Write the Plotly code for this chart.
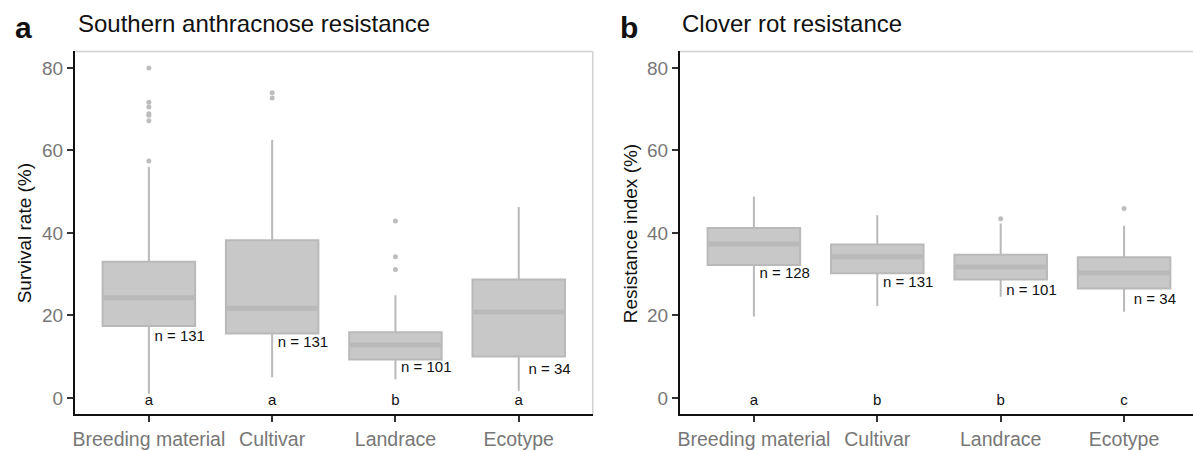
import plotly.graph_objects as go

categories = ["Breeding material", "Cultivar", "Landrace", "Ecotype"]
xpos = [0, 1, 2, 3]

# Panel a: Southern anthracnose resistance (survival rate, %)
a_q1 = [17.4, 15.6, 9.3, 10.0]
a_med = [24.3, 21.7, 12.8, 20.8]
a_q3 = [33.0, 38.2, 15.9, 28.7]
a_low = [1.0, 5.0, 4.5, 1.7]
a_high = [56.0, 62.6, 24.9, 46.3]
a_out_x = [0, 0, 0, 0, 0, 0, 0, 1, 1, 2, 2, 2]
a_out_y = [80.0, 71.7, 70.5, 68.9, 68.5, 67.2, 57.4, 74.0, 72.7, 42.9, 34.2, 31.1]
a_n = ["n = 131", "n = 131", "n = 101", "n = 34"]
a_n_y = [14.8, 13.2, 7.2, 6.8]
a_letters = ["a", "a", "b", "a"]

# Panel b: Clover rot resistance (resistance index, %)
b_q1 = [32.2, 30.2, 28.7, 26.5]
b_med = [37.3, 34.2, 31.7, 30.3]
b_q3 = [41.2, 37.2, 34.7, 34.1]
b_low = [19.7, 22.3, 24.5, 20.9]
b_high = [48.8, 44.3, 42.3, 41.7]
b_out_x = [2, 3]
b_out_y = [43.4, 45.9]
b_n = ["n = 128", "n = 131", "n = 101", "n = 34"]
b_n_y = [29.9, 27.9, 25.8, 23.7]
b_letters = ["a", "b", "b", "c"]

W, H = 1193, 450
FILL = "#c8c8c8"
LINE = "#b9b9b9"
FONT = "Liberation Sans, Arial, Helvetica, sans-serif"
BOXW = 0.75

fig = go.Figure()

panels = [
    ("x", "y", a_q1, a_med, a_q3, a_low, a_high, a_out_x, a_out_y, a_n, a_n_y, a_letters),
    ("x2", "y2", b_q1, b_med, b_q3, b_low, b_high, b_out_x, b_out_y, b_n, b_n_y, b_letters),
]

for xa, ya, q1, med, q3, low, high, ox, oy, nlab, ny, lets in panels:
    fig.add_trace(go.Box(
        x=xpos, q1=q1, median=med, q3=q3, lowerfence=low, upperfence=high,
        width=BOXW, whiskerwidth=0, boxpoints=False,
        fillcolor=FILL, line=dict(color=LINE, width=2),
        xaxis=xa, yaxis=ya, showlegend=False, hoverinfo="skip",
    ))
    # thicker median bars
    for xi, m in zip(xpos, med):
        fig.add_trace(go.Scatter(
            x=[xi - BOXW / 2 + 0.01, xi + BOXW / 2 - 0.01], y=[m, m], mode="lines",
            line=dict(color=LINE, width=5), xaxis=xa, yaxis=ya,
            showlegend=False, hoverinfo="skip",
        ))
    fig.add_trace(go.Scatter(
        x=ox, y=oy, mode="markers",
        marker=dict(color="#bdbdbd", size=5),
        xaxis=xa, yaxis=ya, showlegend=False, hoverinfo="skip",
    ))
    fig.add_trace(go.Scatter(
        x=[xi + 0.25 for xi in xpos], y=ny, mode="text", text=nlab,
        textfont=dict(family=FONT, size=15, color="#111111"),
        textposition="middle center",
        xaxis=xa, yaxis=ya, showlegend=False, hoverinfo="skip",
    ))
    fig.add_trace(go.Scatter(
        x=xpos, y=[-0.9] * 4, mode="text", text=lets,
        textfont=dict(family=FONT, size=15, color="#111111"),
        textposition="middle center",
        xaxis=xa, yaxis=ya, showlegend=False, hoverinfo="skip",
    ))

ydom = [1 - 419 / H, 1 - 52 / H]
common_x = dict(
    tickmode="array", tickvals=xpos, ticktext=categories,
    showline=True, linecolor="#111111", linewidth=2,
    ticks="outside", ticklen=6, tickwidth=1.5, tickcolor="#333333",
    tickfont=dict(family=FONT, size=19.5, color="#777777"),
    showgrid=False, zeroline=False,
)
common_y = dict(
    range=[-4, 84], tickvals=[0, 20, 40, 60, 80], domain=ydom,
    showline=True, linecolor="#111111", linewidth=2,
    ticks="outside", ticklen=6, tickwidth=1.5, tickcolor="#333333",
    tickfont=dict(family=FONT, size=19, color="#777777"),
    showgrid=False, zeroline=False,
)

fig.update_layout(
    width=W, height=H, margin=dict(l=0, r=0, t=0, b=0),
    paper_bgcolor="white", plot_bgcolor="white",
    xaxis=dict(domain=[73 / W, 591.7 / W], range=[-0.6, 3.6], anchor="y", **common_x),
    yaxis=dict(anchor="x", **common_y),
    xaxis2=dict(domain=[679 / W, 1.0], range=[-0.6, -0.6 + (W - 679) / 123.6], anchor="y2", **common_x),
    yaxis2=dict(anchor="x2", **common_y),
)

# panel borders (light grey top / right)
fig.add_shape(type="line", xref="x domain", yref="y domain", x0=0, x1=1, y0=1, y1=1,
              line=dict(color="#d0d0d0", width=1.5), layer="below")
fig.add_shape(type="line", xref="x domain", yref="y domain", x0=1, x1=1, y0=0, y1=1,
              line=dict(color="#d0d0d0", width=1.5), layer="below")
fig.add_shape(type="line", xref="x2 domain", yref="y2 domain", x0=0, x1=1, y0=1, y1=1,
              line=dict(color="#d0d0d0", width=1.5), layer="below")

def px_y(py):
    return 1 - py / H

annos = [
    dict(text="<b>a</b>", x=11 / W, y=px_y(28), size=30),
    dict(text="<b>b</b>", x=617 / W, y=px_y(28), size=30),
    dict(text="Southern anthracnose resistance", x=74 / W, y=px_y(24), size=24),
    dict(text="Clover rot resistance", x=679 / W, y=px_y(24), size=24),
]
for an in annos:
    fig.add_annotation(text=an["text"], x=an["x"], y=an["y"], xref="paper", yref="paper",
                       xanchor="left", yanchor="middle", showarrow=False,
                       font=dict(family=FONT, size=an["size"], color="#111111"))

for txt, cx in [("Survival rate (%)", 22), ("Resistance index (%)", 629)]:
    fig.add_annotation(text=txt, x=cx / W, y=px_y(236), xref="paper", yref="paper",
                       xanchor="center", yanchor="middle", textangle=-90, showarrow=False,
                       font=dict(family=FONT, size=19, color="#111111"))

fig.write_html("out.html", config={"displayModeBar": False},
               post_script="document.body.style.margin='0px';")
